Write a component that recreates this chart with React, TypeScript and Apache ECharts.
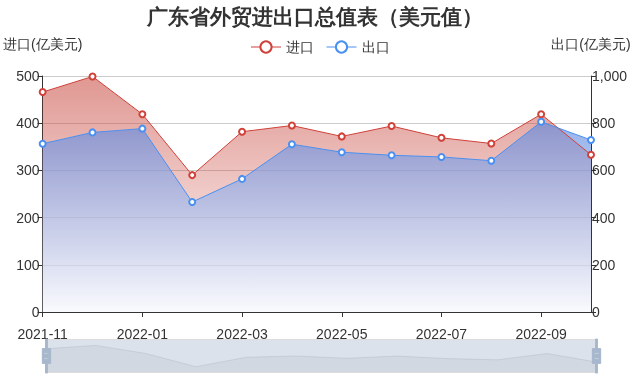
import React, { useEffect, useRef } from "react";
import * as echarts from "echarts";

const months = [
  "2021-11", "2021-12", "2022-01", "2022-02", "2022-03", "2022-04",
  "2022-05", "2022-06", "2022-07", "2022-08", "2022-09", "2022-10",
];
const importValues = [466, 499, 419, 290, 382, 395, 372, 394, 369, 357, 419, 333];
const exportValues = [713, 761, 777, 466, 564, 711, 677, 664, 657, 641, 806, 729];
const titleText = "广东省外贸进出口总值表（美元值）";
const importName = "进口";
const exportName = "出口";
const leftAxisName = "进口(亿美元)";
const rightAxisName = "出口(亿美元)";

const handleIcon =
  "path://M8.2,13.6V3.9H6.3v9.7H3.1v14.9h3.3v9.7h1.8v-9.7h3.3V13.6H8.2z M9.7,24.4H4.8v-1.4h4.9V24.4z M9.7,19.1H4.8v-1.4h4.9V19.1z";

export default function App() {
  const ref = useRef<HTMLDivElement>(null);
  useEffect(() => {
    if (!ref.current) return;
    const chart = echarts.init(ref.current, undefined, { renderer: "svg" });
    const grad = (c0: string, c1: string) =>
      new echarts.graphic.LinearGradient(0, 0, 0, 1, [
        { offset: 0, color: c0 },
        { offset: 1, color: c1 },
      ]);
    chart.setOption({
      animation: false,
      textStyle: { fontFamily: "sans-serif" },
      title: {
        text: titleText,
        left: 142,
        top: 1,
        textStyle: { fontSize: 20.5, fontWeight: "bold", color: "#333" },
      },
      legend: {
        top: 35,
        left: "center",
        itemWidth: 30,
        itemHeight: 14,
        itemGap: 12,
        itemStyle: { borderWidth: 1 },
        lineStyle: { width: 1 },
        textStyle: { fontSize: 14, color: "#333" },
        data: [importName, exportName],
      },
      grid: { left: 41, right: 49, top: 76, bottom: 72 },
      xAxis: {
        type: "category",
        boundaryGap: false,
        data: months,
        axisLine: { lineStyle: { color: "#333" } },
        axisTick: { show: true, interval: 1 },
        axisLabel: { interval: 1, color: "#333", fontSize: 14, margin: 15 },
      },
      yAxis: [
        {
          type: "value",
          name: leftAxisName,
          nameGap: 25,
          nameTextStyle: { color: "#333", fontSize: 14, align: "center" },
          min: 0,
          max: 500,
          interval: 100,
          axisLine: { show: true, lineStyle: { color: "#333" } },
          axisTick: { show: true },
          axisLabel: { color: "#333", fontSize: 14, margin: 3 },
          splitLine: { lineStyle: { color: "#ccc" } },
        },
        {
          type: "value",
          name: rightAxisName,
          nameGap: 25,
          nameTextStyle: { color: "#333", fontSize: 14, align: "center" },
          min: 0,
          max: 1000,
          interval: 200,
          axisLine: { show: true, lineStyle: { color: "#333" } },
          axisTick: { show: true },
          axisLabel: { color: "#333", fontSize: 14, margin: 1 },
          splitLine: { show: false },
        },
      ],
      dataZoom: [
        {
          type: "slider",
          xAxisIndex: 0,
          start: 0,
          end: 100,
          left: 43,
          right: 45,
          bottom: 11,
          height: 34,
          showDetail: false,
          brushSelect: false,
          moveHandleSize: 0,
          backgroundColor: "rgba(47,69,84,0)",
          borderColor: "#ddd",
          fillerColor: "rgba(167,183,204,0.4)",
          handleIcon: handleIcon,
          handleSize: "100%",
          handleStyle: { color: "#a7b7cc", borderColor: "#a7b7cc" },
          dataBackground: {
            lineStyle: { color: "#2f4554", opacity: 0.3, width: 0.5 },
            areaStyle: { color: "rgba(47,69,84,0.3)" },
          },
          selectedDataBackground: {
            lineStyle: { color: "#2f4554", opacity: 0.3, width: 0.5 },
            areaStyle: { color: "rgba(47,69,84,0.3)" },
          },
        },
      ],
      series: [
        {
          name: importName,
          type: "line",
          yAxisIndex: 0,
          data: importValues,
          symbol: "emptyCircle",
          symbolSize: 6,
          itemStyle: { color: "#d0413a" },
          lineStyle: { color: "#d0413a", width: 1 },
          areaStyle: { color: grad("rgba(200,70,60,0.8)", "rgba(200,70,60,0)") },
        },
        {
          name: exportName,
          type: "line",
          yAxisIndex: 1,
          data: exportValues,
          symbol: "emptyCircle",
          symbolSize: 6,
          itemStyle: { color: "#4a90f0" },
          lineStyle: { color: "#4a90f0", width: 1 },
          areaStyle: { color: grad("rgba(90,135,225,0.9)", "rgba(247,248,253,1)") },
        },
      ],
    });
    return () => chart.dispose();
  }, []);
  return (
    <div
      ref={ref}
      style={{ position: "fixed", left: 0, top: 0, width: 640, height: 384 }}
    />
  );
}
